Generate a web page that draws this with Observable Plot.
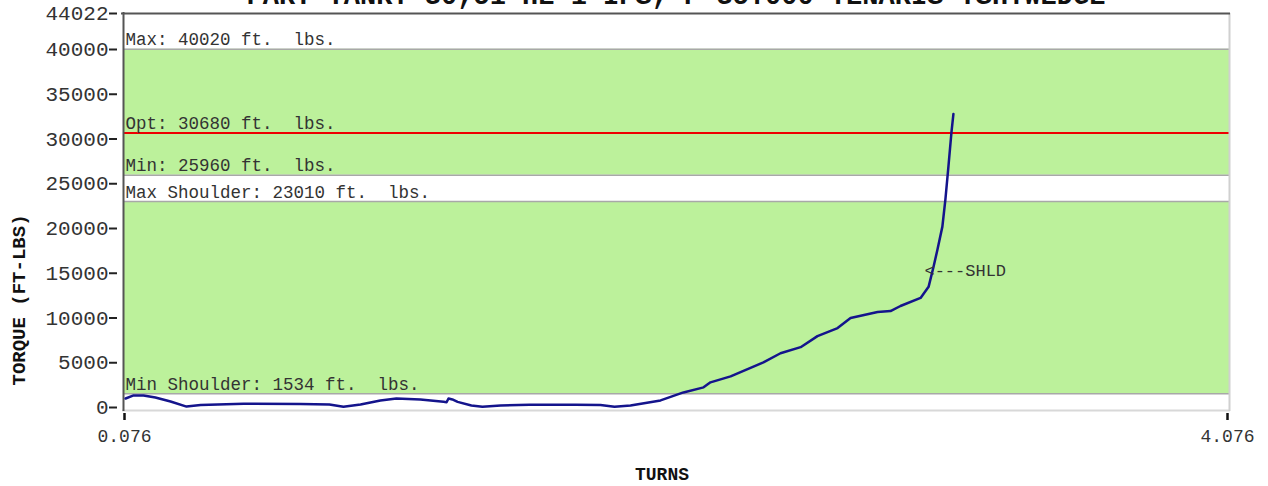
<!DOCTYPE html>
<html>
<head>
<meta charset="utf-8">
<script src="https://cdn.jsdelivr.net/npm/d3@7"></script>
<script src="https://cdn.jsdelivr.net/npm/@observablehq/plot@0.6"></script>
<style>
  html, body { margin: 0; padding: 0; background: #fff; }
  #chart svg { display: block; overflow: visible; }
</style>
</head>
<body>
<div id="chart"></div>
<script>
// ---- data ----
const title = "PART TANK: 30,51 HE 1 IPS, P 35.000 TENARIS TSH.WEDGE";
const xLabel = "TURNS";
const yLabel = "TORQUE (FT-LBS)";
const xTicks = [0.076, 4.076];
const yTicks = [0, 5000, 10000, 15000, 20000, 25000, 30000, 35000, 40000, 44022];

const turns = [0.080, 0.109, 0.145, 0.188, 0.243, 0.301, 0.352, 0.508, 0.714, 0.819,
  0.870, 0.932, 1.004, 1.062, 1.149, 1.233, 1.244, 1.251, 1.265, 1.284,
  1.334, 1.374, 1.440, 1.545, 1.712, 1.802, 1.853, 1.911, 2.020, 2.103,
  2.176, 2.201, 2.274, 2.393, 2.455, 2.528, 2.589, 2.662, 2.709, 2.807,
  2.854, 2.890, 2.963, 2.992, 3.010, 3.024, 3.042, 3.053, 3.064, 3.075, 3.082];
const torque = [1010, 1350, 1350, 1120, 670, 100, 280, 420, 390, 340,
  80, 340, 790, 1010, 900, 630, 580, 1010, 900, 630,
  225, 80, 225, 300, 300, 280, 80, 225, 790, 1685,
  2250, 2810, 3480, 5050, 6060, 6740, 7970, 8870, 9990, 10670,
  10780, 11340, 12240, 13480, 15720, 17630, 20210, 23250, 26950, 30770, 32790];

const limitNames = ["Max", "Opt", "Min", "Max Shoulder", "Min Shoulder"];
const limitValues = [40020, 30680, 25960, 23010, 1534];
const greenBandLow = [1534, 25960];
const greenBandHigh = [23010, 40020];
const shoulderTurns = 2.977;
const shoulderTorque = 15270;
const shoulderText = "<---SHLD";

// ---- build tables ----
const curve = turns.map((t, i) => ({turns: t, torque: torque[i]}));
const limits = limitNames.map((n, i) => ({name: n, value: limitValues[i]}));
const bands = greenBandLow.map((lo, i) => ({lo, hi: greenBandHigh[i]}));
const mono = "'Liberation Mono', 'DejaVu Sans Mono', monospace";
const xMin = xTicks[0], xMax = xTicks[xTicks.length - 1];
const yMin = yTicks[0], yMax = yTicks[yTicks.length - 1];

const chart = Plot.plot({
  width: 1268,
  height: 486,
  marginTop: 13,
  marginBottom: 79,
  marginLeft: 124,
  marginRight: 41,
  style: {fontFamily: mono, background: "#fff"},
  x: {domain: [xMin, xMax]},
  y: {domain: [yMin, yMax]},
  marks: [
    // green acceptance bands
    Plot.rect(bands, {x1: () => xMin, x2: () => xMax, y1: "lo", y2: "hi", fill: "#bcf19b", insetRight: -2}),
    // limit lines
    Plot.ruleY(limits.filter(d => d.name !== "Opt"), {y: "value", stroke: "#a8a8a8", strokeWidth: 1.5, insetRight: -2}),
    Plot.ruleY(limits.filter(d => d.name === "Opt"), {y: "value", stroke: "#ee0000", strokeWidth: 2, insetRight: -2}),
    // limit labels
    Plot.text(limits, {
      x: () => xMin, y: "value",
      text: d => `${d.name}: ${d.value} ft.\u00a0 lbs.`,
      textAnchor: "start", lineAnchor: "bottom", dx: 1, dy: -4,
      fontSize: 17.5, fill: "#333"
    }),
    // frame
    Plot.ruleY([yMin], {dy: 3, stroke: "#d8d8d8", strokeWidth: 2, insetLeft: -2, insetRight: -3}),
    Plot.ruleX([xMax], {dx: 2, stroke: "#d0d0d0", strokeWidth: 2, insetBottom: -4}),
    Plot.ruleY([yMax], {stroke: "#555", strokeWidth: 2, insetLeft: -3, insetRight: -3}),
    Plot.ruleX([xMin], {dx: -1, stroke: "#555", strokeWidth: 2, insetBottom: -4, insetTop: -1}),
    // torque curve
    Plot.line(curve, {x: "turns", y: "torque", stroke: "#14148c", strokeWidth: 2.5}),
    // shoulder marker
    Plot.text([{t: shoulderTurns, v: shoulderTorque}], {
      x: "t", y: "v", text: () => shoulderText,
      textAnchor: "start", lineAnchor: "middle", fontSize: 17, fill: "#333"
    }),
    // axes
    Plot.axisY(yTicks, {
      tickSize: 8, dx: -7, tickPadding: 1, fontSize: 21, fill: "#333",
      stroke: "#222", strokeWidth: 2, tickFormat: d => String(d), label: null
    }),
    Plot.axisX(xTicks, {
      tickSize: 7, dy: 6, tickPadding: 9, fontSize: 18, fill: "#333",
      stroke: "#111", strokeWidth: 2.5, tickFormat: d => d.toFixed(3), label: null
    }),
    // axis titles
    Plot.text([xLabel], {frameAnchor: "bottom", lineAnchor: "middle", dy: 67, dx: -14,
      fontSize: 18, fontWeight: "bold", fill: "#111"}),
    Plot.text([yLabel], {x: () => xMin, y: () => yMin, rotate: -90, textAnchor: "start",
      lineAnchor: "middle", dx: -106, dy: -22,
      fontSize: 19, fontWeight: "bold", fill: "#111"}),
    // title (cropped at the top of the window, as in the reference)
    Plot.text([title], {frameAnchor: "top", lineAnchor: "bottom", dy: -10,
      fontSize: 27, fontWeight: "bold", fill: "#111"})
  ]
});
document.getElementById("chart").appendChild(chart);
</script>
</body>
</html>
